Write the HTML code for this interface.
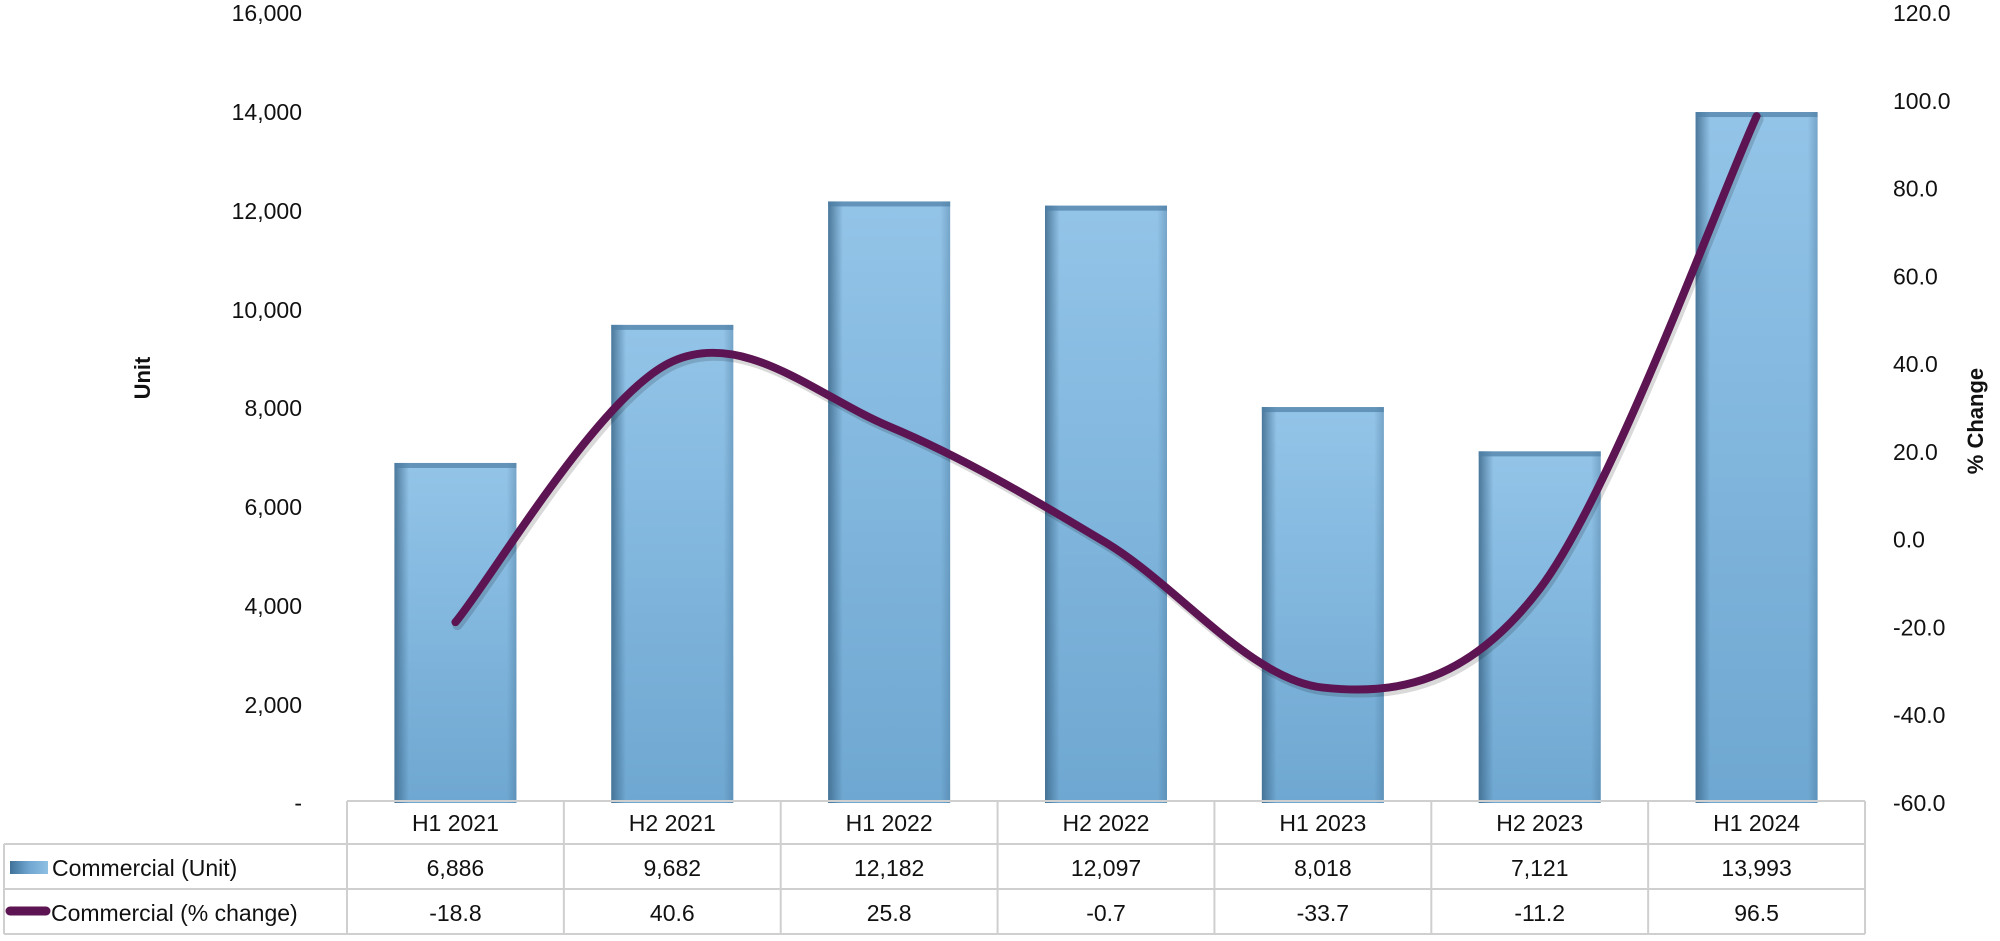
<!DOCTYPE html>
<html><head><meta charset="utf-8"><style>
body{margin:0;background:#fff;}
svg text{font-family:"Liberation Sans",sans-serif;fill:#111;}
</style></head><body>
<svg width="2000" height="936" viewBox="0 0 2000 936" xmlns="http://www.w3.org/2000/svg">
<defs>
<linearGradient id="bg" x1="0" y1="0" x2="0" y2="1">
<stop offset="0" stop-color="#93c4e8"/><stop offset="1" stop-color="#6ea7d1"/>
</linearGradient>
<linearGradient id="edge" x1="0" y1="0" x2="1" y2="0">
<stop offset="0" stop-color="#3e6a8c" stop-opacity="0.85"/><stop offset="0.12" stop-color="#3e6a8c" stop-opacity="0"/>
<stop offset="0.92" stop-color="#3e6a8c" stop-opacity="0"/><stop offset="1" stop-color="#3e6a8c" stop-opacity="0.35"/>
</linearGradient>
<linearGradient id="lg" x1="0" y1="0" x2="1" y2="0">
<stop offset="0" stop-color="#3f7299"/><stop offset="0.5" stop-color="#6fa6d0"/><stop offset="1" stop-color="#8fc0e4"/>
</linearGradient>
</defs>
<g font-size="23" text-anchor="end">
<text x="302" y="21">16,000</text>
<text x="302" y="120">14,000</text>
<text x="302" y="219">12,000</text>
<text x="302" y="318">10,000</text>
<text x="302" y="416">8,000</text>
<text x="302" y="515">6,000</text>
<text x="302" y="614">4,000</text>
<text x="302" y="713">2,000</text>
<text x="302" y="811">-</text>
</g>
<g id="rax" font-size="23" text-anchor="start"></g>
<text x="150" y="378" font-size="22" font-weight="bold" text-anchor="middle" transform="rotate(-90 150 378)">Unit</text>
<text x="1983" y="421" font-size="22" font-weight="bold" text-anchor="middle" transform="rotate(-90 1983 421)">% Change</text>
<g id="bars"></g>
<script>
(function(){
var units=[6886,9682,12182,12097,8018,7121,13993];
var pct=[-18.8,40.6,25.8,-0.7,-33.7,-11.2,96.5];
var ns="http://www.w3.org/2000/svg";var g=document.getElementById('bars');
function el(t,a,p){var e=document.createElementNS(ns,t);for(var k in a)e.setAttribute(k,a[k]);(p||g).appendChild(e);return e;}
var rax=document.getElementById('rax');
for(var v=120;v>=-60;v-=20){var t=el('text',{x:1893,y:803-(v+60)*4.3889+8},rax);t.textContent=v.toFixed(1);}
var cw=216.86,x0=347,pts=[];
for(var i=0;i<7;i++){var cx=x0+cw*(i+0.5);var y=803-units[i]*0.04938;
el('rect',{x:cx-61,y:y,width:122,height:803-y,fill:'url(#bg)'});
el('rect',{x:cx-61,y:y,width:122,height:803-y,fill:'url(#edge)'});
el('rect',{x:cx-61,y:y,width:122,height:5,fill:'#4f7fa5',opacity:0.7});
pts.push([cx,803-(pct[i]+60)*4.3889]);}
var d='M'+pts[0][0]+','+pts[0][1];
for(var i=0;i<6;i++){var p0=pts[Math.max(i-1,0)],p1=pts[i],p2=pts[i+1],p3=pts[Math.min(i+2,6)];
d+=' C'+(p1[0]+(p2[0]-p0[0])/6)+','+(p1[1]+(p2[1]-p0[1])/6)+' '+(p2[0]-(p3[0]-p1[0])/6)+','+(p2[1]-(p3[1]-p1[1])/6)+' '+p2[0]+','+p2[1];}
el('path',{d:d,fill:'none',stroke:'#000','stroke-opacity':0.15,'stroke-width':10,'stroke-linecap':'round',transform:'translate(2,3)'});
el('path',{d:d,fill:'none',stroke:'#5c1552','stroke-width':8,'stroke-linecap':'round'});
var lc='#cfcfcf';
el('line',{x1:347,y1:801,x2:1865,y2:801,stroke:lc,'stroke-width':2});
el('line',{x1:4,y1:844,x2:1865,y2:844,stroke:lc,'stroke-width':2});
el('line',{x1:4,y1:889,x2:1865,y2:889,stroke:lc,'stroke-width':2});
el('line',{x1:4,y1:934,x2:1865,y2:934,stroke:lc,'stroke-width':2});
el('line',{x1:4,y1:844,x2:4,y2:934,stroke:lc,'stroke-width':2});
for(var i=0;i<=7;i++){var x=x0+cw*i;el('line',{x1:x,y1:801,x2:x,y2:934,stroke:lc,'stroke-width':2});}
var labs=['H1 2021','H2 2021','H1 2022','H2 2022','H1 2023','H2 2023','H1 2024'];
var fmt=function(n){return n.toString().replace(/\B(?=(\d{3})+(?!\d))/g,',');};
for(var i=0;i<7;i++){var cx=x0+cw*(i+0.5);
var t=el('text',{x:cx,y:831,'font-size':23,'text-anchor':'middle'});t.textContent=labs[i];
t=el('text',{x:cx,y:876,'font-size':23,'text-anchor':'middle'});t.textContent=fmt(units[i]);
t=el('text',{x:cx,y:921,'font-size':23,'text-anchor':'middle'});t.textContent=pct[i].toFixed(1);}
el('rect',{x:10,y:861,width:38,height:13,fill:'url(#lg)'});
var t=el('text',{x:52,y:876,'font-size':23});t.textContent='Commercial (Unit)';
el('line',{x1:10,y1:911,x2:46,y2:911,stroke:'#5c1552','stroke-width':9,'stroke-linecap':'round'});
t=el('text',{x:51,y:921,'font-size':23});t.textContent='Commercial (% change)';
})();
</script>
</svg>
</body></html>
